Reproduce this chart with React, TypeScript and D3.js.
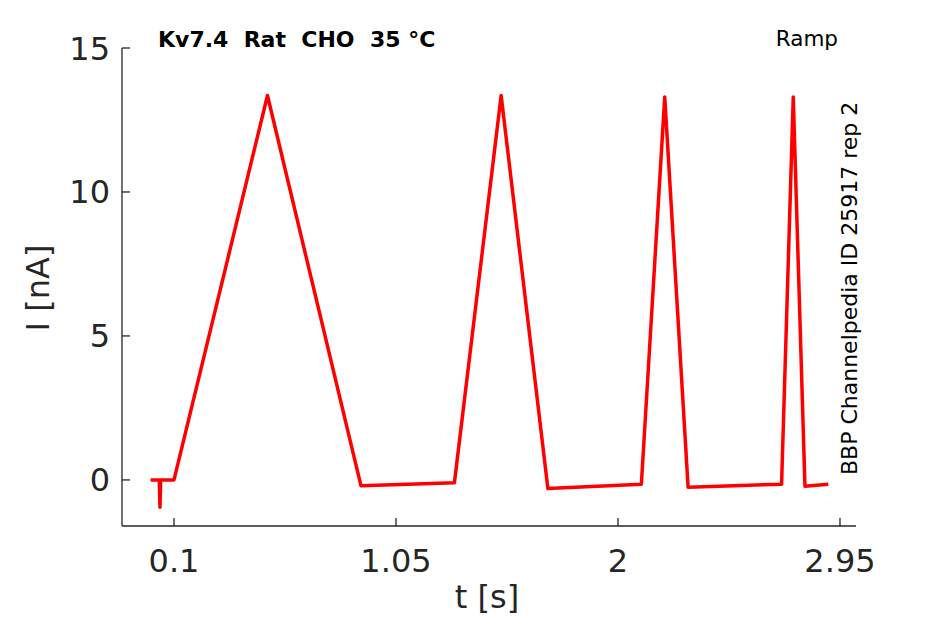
import * as d3 from 'd3'

// breakpoints of the recorded ramp trace (t in s, I in nA)
const times = [0, 0.036, 0.037, 0.04, 0.043, 0.1, 0.5, 0.9, 1.3, 1.5, 1.7, 2.1, 2.2, 2.3, 2.7, 2.75, 2.8, 2.9]
const current = [0, 0, 0, -0.95, 0, 0, 13.35, -0.2, -0.1, 13.35, -0.3, -0.15, 13.3, -0.25, -0.15, 13.3, -0.22, -0.15]

const xTicks = [0.1, 1.05, 2, 2.95]
const yTicks = [0, 5, 10, 15]

const title = 'Kv7.4  Rat  CHO  35 °C'
const protocol = 'Ramp'
const source = 'BBP Channelpedia ID 25917 rep 2'

const width = 945
const height = 624
const marginLeft = 122
const marginRight = 89
const marginTop = 48
const marginBottom = 98

export default function App() {
  const x = d3.scaleLinear([-0.1225, 3.0185], [marginLeft, width - marginRight])
  const y = d3.scaleLinear([-1.6, 15], [height - marginBottom, marginTop])
  const pts = times.map((t, i) => [t, current[i]] as [number, number])
  const line = d3
    .line<[number, number]>()
    .x((d) => x(d[0]))
    .y((d) => y(d[1]))
  const axisColor = '#262626'
  const font = 'DejaVu Sans, sans-serif'
  const y0 = height - marginBottom
  return (
    <svg
      width={width}
      height={height}
      style={{ position: 'absolute', left: 0, top: 0, background: 'white' }}
      fontFamily={font}
    >
      <path
        d={line(pts) || undefined}
        fill="none"
        stroke="#ff0000"
        strokeWidth={3.5}
        strokeLinejoin="round"
      />
      {/* axes */}
      <line x1={marginLeft} x2={marginLeft} y1={marginTop} y2={y0} stroke={axisColor} strokeWidth={1.3} />
      <line x1={marginLeft} x2={width - marginRight} y1={y0} y2={y0} stroke={axisColor} strokeWidth={1.3} />
      {yTicks.map((v) => (
        <g key={v}>
          <line x1={marginLeft} x2={marginLeft + 8} y1={y(v)} y2={y(v)} stroke={axisColor} strokeWidth={1.3} />
          <text x={marginLeft - 12} y={y(v)} dy="0.36em" textAnchor="end" fontSize={32} fill={axisColor}>
            {v}
          </text>
        </g>
      ))}
      {xTicks.map((v) => (
        <g key={v}>
          <line x1={x(v)} x2={x(v)} y1={y0} y2={y0 - 8} stroke={axisColor} strokeWidth={1.3} />
          <text x={x(v)} y={y0 + 46} textAnchor="middle" fontSize={32} fill={axisColor}>
            {v}
          </text>
        </g>
      ))}
      <text x={487} y={608} textAnchor="middle" fontSize={32} fill={axisColor}>
        t [s]
      </text>
      <text
        transform="translate(49,288) rotate(-90)"
        textAnchor="middle"
        fontSize={32}
        fill={axisColor}
      >
        I [nA]
      </text>
      <text x={158} y={47} fontSize={22} fontWeight="bold" fill="#000" style={{ whiteSpace: 'pre' }}>
        {title}
      </text>
      <text x={838} y={46} textAnchor="end" fontSize={21.5} fill="#000">
        {protocol}
      </text>
      <text
        transform="translate(857,475) rotate(-90)"
        fontSize={22}
        fill="#000"
      >
        {source}
      </text>
    </svg>
  )
}
